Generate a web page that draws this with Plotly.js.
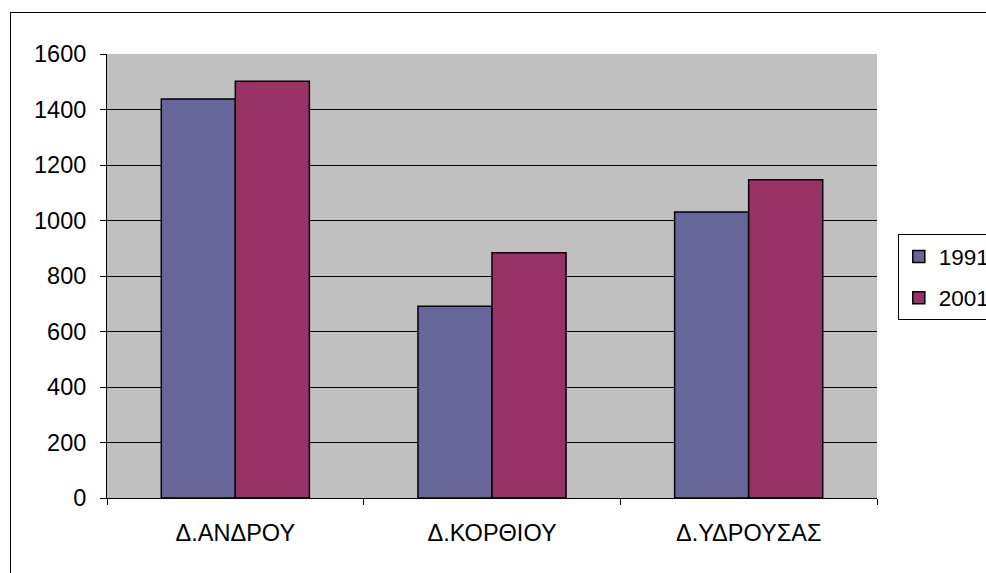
<!DOCTYPE html>
<html><head><meta charset="utf-8">
<script src="https://cdn.plot.ly/plotly-3.0.1.min.js"></script>
<style>
html,body{margin:0;padding:0;background:#fff;overflow:hidden;}
#wrap{position:relative;width:986px;height:573px;overflow:hidden;}
#frame{position:absolute;left:10px;top:12px;width:1100px;height:700px;border:1px solid #000;pointer-events:none;}
#chart{position:absolute;left:0;top:0;width:986px;height:573px;}
</style></head>
<body>
<div id="wrap"><div id="frame"></div><div id="chart"></div></div>
<script>
const categories = ["Δ.ΑΝΔΡΟΥ", "Δ.ΚΟΡΘΙΟΥ", "Δ.ΥΔΡΟΥΣΑΣ"];
const values1991 = [1438, 691, 1031];
const values2001 = [1502, 884, 1147];
const seriesNames = ["1991", "2001"];
const yTicks = [0, 200, 400, 600, 800, 1000, 1200, 1400, 1600];

const font = {family: "Liberation Sans", size: 23.5, color: "#000"};
const legendFont = {family: "Liberation Sans", size: 22.5, color: "#000"};
const traces = [
  {type: "bar", name: seriesNames[0], x: categories, y: values1991, legendgroup: "a",
   marker: {color: "#666699", line: {color: "#000", width: 1.5}}},
  {type: "bar", name: seriesNames[1], x: categories, y: values2001, legendgroup: "b",
   marker: {color: "#993366", line: {color: "#000", width: 1.5}}}
];
const layout = {
  width: 986, height: 573,
  margin: {l: 107, r: 109, t: 54, b: 75, pad: 0, autoexpand: false},
  paper_bgcolor: "rgba(0,0,0,0)",
  plot_bgcolor: "#C0C0C0",
  font: font,
  barmode: "group",
  bargap: 0.423, bargroupgap: 0,
  showlegend: true,
  legend: {x: 1.027, xanchor: "left", y: 0.497, yanchor: "middle",
           bordercolor: "#000", borderwidth: 1, bgcolor: "#fff",
           font: legendFont, traceorder: "grouped", tracegroupgap: 9, itemwidth: 30},
  xaxis: {type: "category", showgrid: false, showline: true, linecolor: "#000", linewidth: 1,
          ticks: "outside", tickson: "boundaries", ticklen: 6, tickcolor: "#000",
          ticklabelstandoff: 14, zeroline: false},
  yaxis: {range: [0, 1600], tickvals: yTicks, ticktext: yTicks.map(String),
          showgrid: true, gridcolor: "#000", gridwidth: 1,
          showline: true, linecolor: "#000", linewidth: 1,
          ticks: "outside", ticklen: 6, tickcolor: "#000",
          ticklabelstandoff: 9, zeroline: false}
};
Plotly.newPlot("chart", traces, layout, {displayModeBar: false, staticPlot: true});
</script>
</body></html>
